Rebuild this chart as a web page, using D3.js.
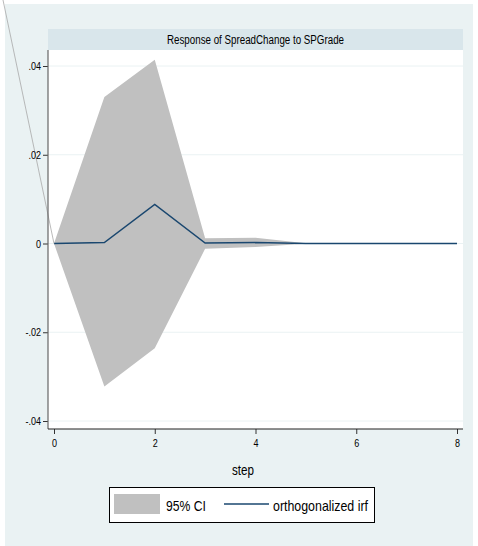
<!DOCTYPE html>
<html>
<head>
<meta charset="utf-8">
<script src="https://cdn.jsdelivr.net/npm/d3@7"></script>
<style>
  html, body { margin: 0; padding: 0; background: #ffffff; }
  svg { display: block; }
  text { font-family: "Liberation Sans", Arial, sans-serif; fill: #000; }
</style>
</head>
<body>
<svg id="chart" width="478" height="546"></svg>
<script>
// Impulse response of SpreadChange to an SPGrade shock, with 95% band
const steps = [0, 1, 2, 3, 4, 5, 6, 7, 8];
const irf   = [0, 0.0002, 0.0088, 0.0001, 0.0002, 0, 0, 0, 0];
const ciLow = [0, -0.0322, -0.0236, -0.0012, -0.0008, -0.00005, 0, 0, 0];
const ciHigh = [0, 0.0330, 0.0414, 0.0012, 0.0013, 0.00005, 0, 0, 0];

const yTicks = [-0.04, -0.02, 0, 0.02, 0.04];
const yTickLabels = ["-.04", "-.02", "0", ".02", ".04"];
const xTicks = [0, 2, 4, 6, 8];

const titleText = "Response of SpreadChange to SPGrade";
const xTitle = "step";
const legendLabels = ["95% CI", "orthogonalized irf"];

const svg = d3.select("#chart");

const bg = "#eaf2f3";
const strip = "#d9e6eb";
const bandColor = "#c0c0c0";
const lineColor = "#1a476f";

// graph region
svg.append("rect").attr("x", 5).attr("y", 4).attr("width", 468).attr("height", 542).attr("fill", bg);

// plot region bounds
const plot = { left: 48, right: 463, top: 50, bottom: 429 };

const x = d3.scaleLinear().domain([0, 8]).range([54, 457]);
const y = d3.scaleLinear().domain([-0.04, 0.04]).range([421, 66]);

// title strip
svg.append("rect")
  .attr("x", plot.left).attr("y", 29)
  .attr("width", plot.right - plot.left).attr("height", plot.top - 29)
  .attr("fill", strip);
svg.append("text")
  .attr("x", (plot.left + plot.right) / 2).attr("y", 44)
  .attr("text-anchor", "middle")
  .attr("font-size", 12)
  .attr("textLength", 177).attr("lengthAdjust", "spacingAndGlyphs")
  .text(titleText);

// plot area
svg.append("rect")
  .attr("x", plot.left).attr("y", plot.top)
  .attr("width", plot.right - plot.left).attr("height", plot.bottom - plot.top)
  .attr("fill", "#ffffff");

// gridlines
svg.append("g").selectAll("line").data(yTicks).join("line")
  .attr("x1", plot.left).attr("x2", plot.right)
  .attr("y1", d => y(d)).attr("y2", d => y(d))
  .attr("stroke", bg).attr("stroke-width", 1);

// confidence band
const area = d3.area()
  .x((d, i) => x(steps[i]))
  .y0((d, i) => y(ciLow[i]))
  .y1((d, i) => y(ciHigh[i]));
svg.append("path").datum(steps).attr("d", area).attr("fill", bandColor);

// irf line
const line = d3.line().x((d, i) => x(steps[i])).y((d, i) => y(irf[i]));
svg.append("path").datum(steps).attr("d", line)
  .attr("fill", "none").attr("stroke", lineColor).attr("stroke-width", 1.5);

// stray connector line from the top edge down to the origin
svg.append("line")
  .attr("x1", 3).attr("y1", 0).attr("x2", x(0)).attr("y2", y(0))
  .attr("stroke", "#a8a8a8").attr("stroke-width", 0.8);

// compress tick label glyphs horizontally
function narrow(sel, k) {
  sel.each(function () {
    const t = d3.select(this);
    const tx = +t.attr("x") || 0;
    t.attr("x", 0).attr("transform", `translate(${tx},0) scale(${k},1)`);
  });
}

// y axis
const yAxis = svg.append("g")
  .attr("transform", `translate(${plot.left},0)`)
  .call(d3.axisLeft(y).tickValues(yTicks).tickSize(5).tickPadding(2)
    .tickFormat((d, i) => yTickLabels[i]));
yAxis.select(".domain").remove();
yAxis.append("line").attr("x1", 0).attr("x2", 0).attr("y1", plot.top).attr("y2", plot.bottom)
  .attr("stroke", "#666").attr("stroke-width", 1.2);
yAxis.selectAll(".tick line").attr("stroke", "#333");
yAxis.selectAll(".tick text").attr("font-size", 11).attr("font-family", "Liberation Sans, Arial, sans-serif")
  .attr("fill", "#000").call(narrow, 0.82);

// x axis
const xAxis = svg.append("g")
  .attr("transform", `translate(0,${plot.bottom})`)
  .call(d3.axisBottom(x).tickValues(xTicks).tickSize(5).tickPadding(5)
    .tickFormat(d3.format("d")));
xAxis.select(".domain").remove();
xAxis.append("line").attr("x1", plot.left).attr("x2", plot.right).attr("y1", 0).attr("y2", 0)
  .attr("stroke", "#222").attr("stroke-width", 1.2);
xAxis.selectAll(".tick line").attr("stroke", "#333");
xAxis.selectAll(".tick text").attr("font-size", 11).attr("font-family", "Liberation Sans, Arial, sans-serif")
  .attr("fill", "#000").call(narrow, 0.82);

// x axis title
svg.append("text")
  .attr("x", 243).attr("y", 475)
  .attr("text-anchor", "middle").attr("font-size", 14)
  .attr("textLength", 22).attr("lengthAdjust", "spacingAndGlyphs")
  .text(xTitle);

// legend
const lg = svg.append("g");
lg.append("rect").attr("x", 109.5).attr("y", 487.5).attr("width", 265).attr("height", 35)
  .attr("fill", "#ffffff").attr("stroke", "#000").attr("stroke-width", 1);
lg.append("rect").attr("x", 114).attr("y", 494).attr("width", 46).attr("height", 20)
  .attr("fill", bandColor);
lg.append("text").attr("x", 166).attr("y", 511).attr("font-size", 15)
  .attr("textLength", 40).attr("lengthAdjust", "spacingAndGlyphs")
  .text(legendLabels[0]);
lg.append("line").attr("x1", 224).attr("x2", 269).attr("y1", 504).attr("y2", 504)
  .attr("stroke", lineColor).attr("stroke-width", 1.5);
lg.append("text").attr("x", 273).attr("y", 511).attr("font-size", 15)
  .attr("textLength", 95).attr("lengthAdjust", "spacingAndGlyphs")
  .text(legendLabels[1]);
</script>
</body>
</html>
